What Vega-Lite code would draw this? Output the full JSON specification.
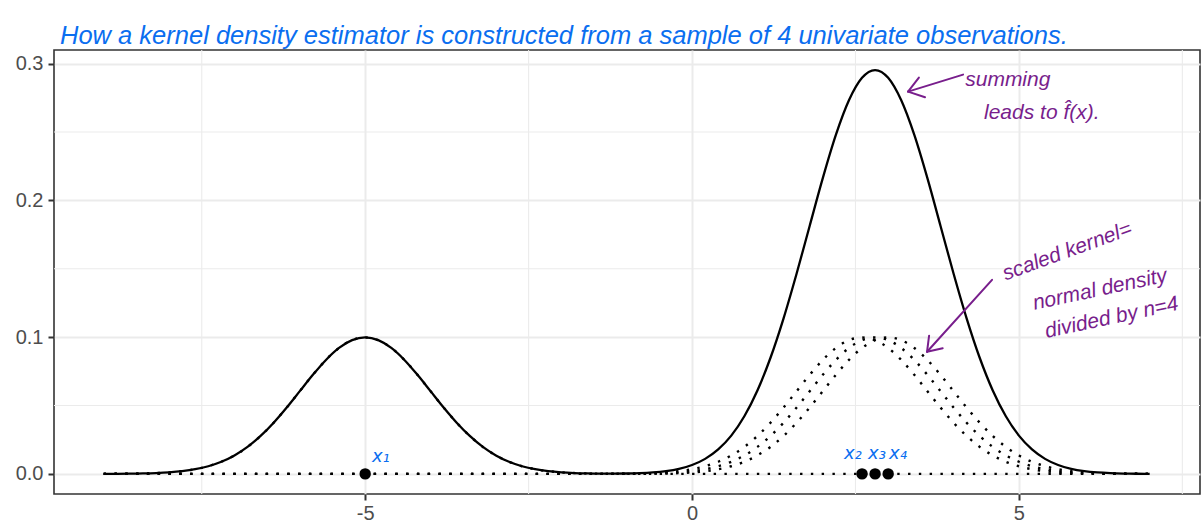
{
  "$schema": "https://vega.github.io/schema/vega-lite/v6.json",
  "width": 1146,
  "height": 444,
  "autosize": {"type": "none"},
  "padding": {"left": 54, "top": 50, "right": 3, "bottom": 31},
  "background": "white",
  "config": {
    "font": "Liberation Sans",
    "view": {"stroke": "#333333", "strokeWidth": 1.6},
    "axis": {
      "domain": false,
      "labelFont": "Liberation Sans",
      "labelFontSize": 20,
      "labelColor": "#4D4D4D",
      "tickColor": "#333333",
      "tickSize": 6,
      "tickWidth": 2,
      "gridColor": "#EBEBEB",
      "gridWidth": 2
    }
  },
  "title": {
    "text": "How a kernel density estimator is constructed from a sample of 4 univariate observations.",
    "anchor": "start",
    "frame": "group",
    "baseline": "alphabetic",
    "offset": 7,
    "dx": 6,
    "dy": 27,
    "font": "Liberation Sans",
    "fontStyle": "italic",
    "fontWeight": "normal",
    "fontSize": 25.5,
    "color": "#0A6EF0"
  },
  "datasets": {
    "curves": [
      {"x": -9.0, "k1": 0.00003, "k2": 0, "k3": 0, "k4": 0, "s": 0.00003},
      {"x": -8.8, "k1": 0.00007, "k2": 0, "k3": 0, "k4": 0, "s": 0.00007},
      {"x": -8.6, "k1": 0.00015, "k2": 0, "k3": 0, "k4": 0, "s": 0.00015},
      {"x": -8.4, "k1": 0.00031, "k2": 0, "k3": 0, "k4": 0, "s": 0.00031},
      {"x": -8.2, "k1": 0.0006, "k2": 0, "k3": 0, "k4": 0, "s": 0.0006},
      {"x": -8.0, "k1": 0.00111, "k2": 0, "k3": 0, "k4": 0, "s": 0.00111},
      {"x": -7.8, "k1": 0.00198, "k2": 0, "k3": 0, "k4": 0, "s": 0.00198},
      {"x": -7.6, "k1": 0.0034, "k2": 0, "k3": 0, "k4": 0, "s": 0.0034},
      {"x": -7.4, "k1": 0.0056, "k2": 0, "k3": 0, "k4": 0, "s": 0.0056},
      {"x": -7.2, "k1": 0.00887, "k2": 0, "k3": 0, "k4": 0, "s": 0.00887},
      {"x": -7.0, "k1": 0.0135, "k2": 0, "k3": 0, "k4": 0, "s": 0.0135},
      {"x": -6.8, "k1": 0.01974, "k2": 0, "k3": 0, "k4": 0, "s": 0.01974},
      {"x": -6.6, "k1": 0.02773, "k2": 0, "k3": 0, "k4": 0, "s": 0.02773},
      {"x": -6.4, "k1": 0.03743, "k2": 0, "k3": 0, "k4": 0, "s": 0.03743},
      {"x": -6.2, "k1": 0.04855, "k2": 0, "k3": 0, "k4": 0, "s": 0.04855},
      {"x": -6.0, "k1": 0.06049, "k2": 0, "k3": 0, "k4": 0, "s": 0.06049},
      {"x": -5.8, "k1": 0.07242, "k2": 0, "k3": 0, "k4": 0, "s": 0.07242},
      {"x": -5.6, "k1": 0.08331, "k2": 0, "k3": 0, "k4": 0, "s": 0.08331},
      {"x": -5.4, "k1": 0.09207, "k2": 0, "k3": 0, "k4": 0, "s": 0.09207},
      {"x": -5.2, "k1": 0.09776, "k2": 0, "k3": 0, "k4": 0, "s": 0.09776},
      {"x": -5.0, "k1": 0.09974, "k2": 0, "k3": 0, "k4": 0, "s": 0.09974},
      {"x": -4.8, "k1": 0.09776, "k2": 0, "k3": 0, "k4": 0, "s": 0.09776},
      {"x": -4.6, "k1": 0.09207, "k2": 0, "k3": 0, "k4": 0, "s": 0.09207},
      {"x": -4.4, "k1": 0.08331, "k2": 0, "k3": 0, "k4": 0, "s": 0.08331},
      {"x": -4.2, "k1": 0.07242, "k2": 0, "k3": 0, "k4": 0, "s": 0.07242},
      {"x": -4.0, "k1": 0.06049, "k2": 0, "k3": 0, "k4": 0, "s": 0.06049},
      {"x": -3.8, "k1": 0.04855, "k2": 0, "k3": 0, "k4": 0, "s": 0.04855},
      {"x": -3.6, "k1": 0.03743, "k2": 0, "k3": 0, "k4": 0, "s": 0.03743},
      {"x": -3.4, "k1": 0.02773, "k2": 0, "k3": 0, "k4": 0, "s": 0.02773},
      {"x": -3.2, "k1": 0.01974, "k2": 0, "k3": 0, "k4": 0, "s": 0.01974},
      {"x": -3.0, "k1": 0.0135, "k2": 0, "k3": 0, "k4": 0, "s": 0.0135},
      {"x": -2.8, "k1": 0.00887, "k2": 0, "k3": 0, "k4": 0, "s": 0.00887},
      {"x": -2.6, "k1": 0.0056, "k2": 0, "k3": 0, "k4": 0, "s": 0.0056},
      {"x": -2.4, "k1": 0.0034, "k2": 0, "k3": 0, "k4": 0, "s": 0.0034},
      {"x": -2.2, "k1": 0.00198, "k2": 0, "k3": 0, "k4": 0, "s": 0.00198},
      {"x": -2.0, "k1": 0.00111, "k2": 0, "k3": 0, "k4": 0, "s": 0.00111},
      {"x": -1.8, "k1": 0.0006, "k2": 0, "k3": 0, "k4": 0, "s": 0.0006},
      {"x": -1.6, "k1": 0.00031, "k2": 0, "k3": 0, "k4": 0, "s": 0.00031},
      {"x": -1.4, "k1": 0.00015, "k2": 0.00003, "k3": 0, "k4": 0, "s": 0.00018},
      {"x": -1.2, "k1": 0.00007, "k2": 0.00007, "k3": 0.00003, "k4": 0, "s": 0.00017},
      {"x": -1.0, "k1": 0.00003, "k2": 0.00015, "k3": 0.00007, "k4": 0.00003, "s": 0.00028},
      {"x": -0.8, "k1": 0, "k2": 0.00031, "k3": 0.00015, "k4": 0.00007, "s": 0.00053},
      {"x": -0.6, "k1": 0, "k2": 0.0006, "k3": 0.00031, "k4": 0.00015, "s": 0.00106},
      {"x": -0.4, "k1": 0, "k2": 0.00111, "k3": 0.0006, "k4": 0.00031, "s": 0.00202},
      {"x": -0.2, "k1": 0, "k2": 0.00198, "k3": 0.00111, "k4": 0.0006, "s": 0.00369},
      {"x": 0.0, "k1": 0, "k2": 0.0034, "k3": 0.00198, "k4": 0.00111, "s": 0.00649},
      {"x": 0.2, "k1": 0, "k2": 0.0056, "k3": 0.0034, "k4": 0.00198, "s": 0.01098},
      {"x": 0.4, "k1": 0, "k2": 0.00887, "k3": 0.0056, "k4": 0.0034, "s": 0.01787},
      {"x": 0.6, "k1": 0, "k2": 0.0135, "k3": 0.00887, "k4": 0.0056, "s": 0.02797},
      {"x": 0.8, "k1": 0, "k2": 0.01974, "k3": 0.0135, "k4": 0.00887, "s": 0.04211},
      {"x": 1.0, "k1": 0, "k2": 0.02773, "k3": 0.01974, "k4": 0.0135, "s": 0.06097},
      {"x": 1.2, "k1": 0, "k2": 0.03743, "k3": 0.02773, "k4": 0.01974, "s": 0.0849},
      {"x": 1.4, "k1": 0, "k2": 0.04855, "k3": 0.03743, "k4": 0.02773, "s": 0.11371},
      {"x": 1.6, "k1": 0, "k2": 0.06049, "k3": 0.04855, "k4": 0.03743, "s": 0.14647},
      {"x": 1.8, "k1": 0, "k2": 0.07242, "k3": 0.06049, "k4": 0.04855, "s": 0.18146},
      {"x": 2.0, "k1": 0, "k2": 0.08331, "k3": 0.07242, "k4": 0.06049, "s": 0.21622},
      {"x": 2.2, "k1": 0, "k2": 0.09207, "k3": 0.08331, "k4": 0.07242, "s": 0.2478},
      {"x": 2.4, "k1": 0, "k2": 0.09776, "k3": 0.09207, "k4": 0.08331, "s": 0.27314},
      {"x": 2.6, "k1": 0, "k2": 0.09974, "k3": 0.09776, "k4": 0.09207, "s": 0.28957},
      {"x": 2.8, "k1": 0, "k2": 0.09776, "k3": 0.09974, "k4": 0.09776, "s": 0.29526},
      {"x": 3.0, "k1": 0, "k2": 0.09207, "k3": 0.09776, "k4": 0.09974, "s": 0.28957},
      {"x": 3.2, "k1": 0, "k2": 0.08331, "k3": 0.09207, "k4": 0.09776, "s": 0.27314},
      {"x": 3.4, "k1": 0, "k2": 0.07242, "k3": 0.08331, "k4": 0.09207, "s": 0.2478},
      {"x": 3.6, "k1": 0, "k2": 0.06049, "k3": 0.07242, "k4": 0.08331, "s": 0.21622},
      {"x": 3.8, "k1": 0, "k2": 0.04855, "k3": 0.06049, "k4": 0.07242, "s": 0.18146},
      {"x": 4.0, "k1": 0, "k2": 0.03743, "k3": 0.04855, "k4": 0.06049, "s": 0.14647},
      {"x": 4.2, "k1": 0, "k2": 0.02773, "k3": 0.03743, "k4": 0.04855, "s": 0.11371},
      {"x": 4.4, "k1": 0, "k2": 0.01974, "k3": 0.02773, "k4": 0.03743, "s": 0.0849},
      {"x": 4.6, "k1": 0, "k2": 0.0135, "k3": 0.01974, "k4": 0.02773, "s": 0.06097},
      {"x": 4.8, "k1": 0, "k2": 0.00887, "k3": 0.0135, "k4": 0.01974, "s": 0.04211},
      {"x": 5.0, "k1": 0, "k2": 0.0056, "k3": 0.00887, "k4": 0.0135, "s": 0.02797},
      {"x": 5.2, "k1": 0, "k2": 0.0034, "k3": 0.0056, "k4": 0.00887, "s": 0.01787},
      {"x": 5.4, "k1": 0, "k2": 0.00198, "k3": 0.0034, "k4": 0.0056, "s": 0.01098},
      {"x": 5.6, "k1": 0, "k2": 0.00111, "k3": 0.00198, "k4": 0.0034, "s": 0.00649},
      {"x": 5.8, "k1": 0, "k2": 0.0006, "k3": 0.00111, "k4": 0.00198, "s": 0.00369},
      {"x": 6.0, "k1": 0, "k2": 0.00031, "k3": 0.0006, "k4": 0.00111, "s": 0.00202},
      {"x": 6.2, "k1": 0, "k2": 0.00015, "k3": 0.00031, "k4": 0.0006, "s": 0.00106},
      {"x": 6.4, "k1": 0, "k2": 0.00007, "k3": 0.00015, "k4": 0.00031, "s": 0.00053},
      {"x": 6.6, "k1": 0, "k2": 0.00003, "k3": 0.00007, "k4": 0.00015, "s": 0.00025},
      {"x": 6.8, "k1": 0, "k2": 0, "k3": 0.00003, "k4": 0.00007, "s": 0.0001},
      {"x": 7.0, "k1": 0, "k2": 0, "k3": 0, "k4": 0.00003, "s": 0.00003}
    ],
    "obs": [
      {"x": -5.0, "label": "x1"},
      {"x": 2.6, "label": "x2"},
      {"x": 2.8, "label": "x3"},
      {"x": 3.0, "label": "x4"}
    ],
    "obsLabels": [
      {"x": -4.76, "y": 0.012, "label": "x₁"},
      {"x": 2.46, "y": 0.0145, "label": "x₂"},
      {"x": 2.83, "y": 0.0145, "label": "x₃"},
      {"x": 3.15, "y": 0.0145, "label": "x₄"}
    ],
    "notesFlat": [
      {"x": 4.83, "y": 0.288, "label": "summing"},
      {"x": 5.35, "y": 0.264, "label": "leads to f̂(x)."}
    ],
    "notesSteep": [
      {"x": 5.74, "y": 0.1625, "label": "scaled kernel="}
    ],
    "notesTilt": [
      {"x": 6.24, "y": 0.1346, "label": "normal density"},
      {"x": 6.42, "y": 0.114, "label": "divided by n=4"}
    ],
    "arrows": [
      {"x": 4.146, "y": 0.2919, "xe": 3.304, "ye": 0.2795},
      {"x": 3.304, "y": 0.2795, "xe": 3.47, "ye": 0.2897},
      {"x": 3.304, "y": 0.2795, "xe": 3.564, "ye": 0.2754},
      {"x": 4.589, "y": 0.1419, "xe": 3.595, "ye": 0.0893},
      {"x": 3.595, "y": 0.0893, "xe": 3.626, "ye": 0.101},
      {"x": 3.595, "y": 0.0893, "xe": 3.834, "ye": 0.0919}
    ],
    "minorX": [{"v": -7.5}, {"v": -2.5}, {"v": 2.5}, {"v": 7.5}],
    "minorY": [{"v": 0.05}, {"v": 0.15}, {"v": 0.25}]
  },
  "layer": [
    {
      "data": {"name": "minorX"},
      "mark": {"type": "rule", "color": "#EBEBEB", "strokeWidth": 1.1},
      "encoding": {
        "x": {"field": "v", "type": "quantitative", "title": null, "scale": {"domain": [-9.76, 7.77], "nice": false, "zero": false},
              "axis": {"values": [-5, 0, 5], "labelExpr": "'' + datum.value", "title": null, "labelPadding": 3, "grid": true}}
      }
    },
    {
      "data": {"name": "minorY"},
      "mark": {"type": "rule", "color": "#EBEBEB", "strokeWidth": 1.1},
      "encoding": {
        "y": {"field": "v", "type": "quantitative", "title": null, "scale": {"domain": [-0.0147, 0.3099], "nice": false, "zero": false},
              "axis": {"values": [0, 0.1, 0.2, 0.3], "format": ".1f", "title": null, "labelPadding": 5, "grid": true}}
      }
    },
    {
      "data": {"name": "curves"},
      "transform": [{"fold": ["k1", "k2", "k3", "k4"], "as": ["kernel", "y"]}],
      "mark": {"type": "line", "color": "black", "strokeWidth": 2.4, "strokeDash": [2.4, 8.4], "strokeCap": "butt", "interpolate": "monotone"},
      "encoding": {
        "x": {"field": "x", "type": "quantitative", "title": null, "scale": {"domain": [-9.76, 7.77], "nice": false, "zero": false}},
        "y": {"field": "y", "type": "quantitative", "title": null, "scale": {"domain": [-0.0147, 0.3099], "nice": false, "zero": false}},
        "detail": {"field": "kernel", "type": "nominal"}
      }
    },
    {
      "data": {"name": "curves"},
      "mark": {"type": "line", "color": "black", "strokeWidth": 2.3, "interpolate": "monotone"},
      "encoding": {
        "x": {"field": "x", "type": "quantitative", "title": null, "scale": {"domain": [-9.76, 7.77], "nice": false, "zero": false}},
        "y": {"field": "s", "type": "quantitative", "title": null, "scale": {"domain": [-0.0147, 0.3099], "nice": false, "zero": false}}
      }
    },
    {
      "data": {"name": "obs"},
      "mark": {"type": "circle", "color": "black", "opacity": 1, "size": 130},
      "encoding": {
        "x": {"field": "x", "type": "quantitative", "title": null, "scale": {"domain": [-9.76, 7.77], "nice": false, "zero": false}},
        "y": {"datum": 0, "type": "quantitative", "title": null, "scale": {"domain": [-0.0147, 0.3099], "nice": false, "zero": false}}
      }
    },
    {
      "data": {"name": "obsLabels"},
      "mark": {"type": "text", "font": "DejaVu Sans", "fontStyle": "italic", "fontSize": 18, "color": "#0A6EF0", "align": "center", "baseline": "middle"},
      "encoding": {
        "x": {"field": "x", "type": "quantitative", "title": null, "scale": {"domain": [-9.76, 7.77], "nice": false, "zero": false}},
        "y": {"field": "y", "type": "quantitative", "title": null, "scale": {"domain": [-0.0147, 0.3099], "nice": false, "zero": false}},
        "text": {"field": "label", "type": "nominal"}
      }
    },
    {
      "data": {"name": "arrows"},
      "mark": {"type": "rule", "color": "#781E8C", "strokeWidth": 2, "strokeCap": "round"},
      "encoding": {
        "x": {"field": "x", "type": "quantitative", "title": null, "scale": {"domain": [-9.76, 7.77], "nice": false, "zero": false}},
        "y": {"field": "y", "type": "quantitative", "title": null, "scale": {"domain": [-0.0147, 0.3099], "nice": false, "zero": false}},
        "x2": {"field": "xe"},
        "y2": {"field": "ye"}
      }
    },
    {
      "data": {"name": "notesFlat"},
      "mark": {"type": "text", "font": "Liberation Sans", "fontStyle": "italic", "fontSize": 21, "color": "#781E8C", "align": "center", "baseline": "middle"},
      "encoding": {
        "x": {"field": "x", "type": "quantitative", "title": null, "scale": {"domain": [-9.76, 7.77], "nice": false, "zero": false}},
        "y": {"field": "y", "type": "quantitative", "title": null, "scale": {"domain": [-0.0147, 0.3099], "nice": false, "zero": false}},
        "text": {"field": "label", "type": "nominal"}
      }
    },
    {
      "data": {"name": "notesSteep"},
      "mark": {"type": "text", "font": "Liberation Sans", "fontStyle": "italic", "fontSize": 21, "color": "#781E8C", "align": "center", "baseline": "middle", "angle": -20},
      "encoding": {
        "x": {"field": "x", "type": "quantitative", "title": null, "scale": {"domain": [-9.76, 7.77], "nice": false, "zero": false}},
        "y": {"field": "y", "type": "quantitative", "title": null, "scale": {"domain": [-0.0147, 0.3099], "nice": false, "zero": false}},
        "text": {"field": "label", "type": "nominal"}
      }
    },
    {
      "data": {"name": "notesTilt"},
      "mark": {"type": "text", "font": "Liberation Sans", "fontStyle": "italic", "fontSize": 21, "color": "#781E8C", "align": "center", "baseline": "middle", "angle": -12},
      "encoding": {
        "x": {"field": "x", "type": "quantitative", "title": null, "scale": {"domain": [-9.76, 7.77], "nice": false, "zero": false}},
        "y": {"field": "y", "type": "quantitative", "title": null, "scale": {"domain": [-0.0147, 0.3099], "nice": false, "zero": false}},
        "text": {"field": "label", "type": "nominal"}
      }
    }
  ]
}
